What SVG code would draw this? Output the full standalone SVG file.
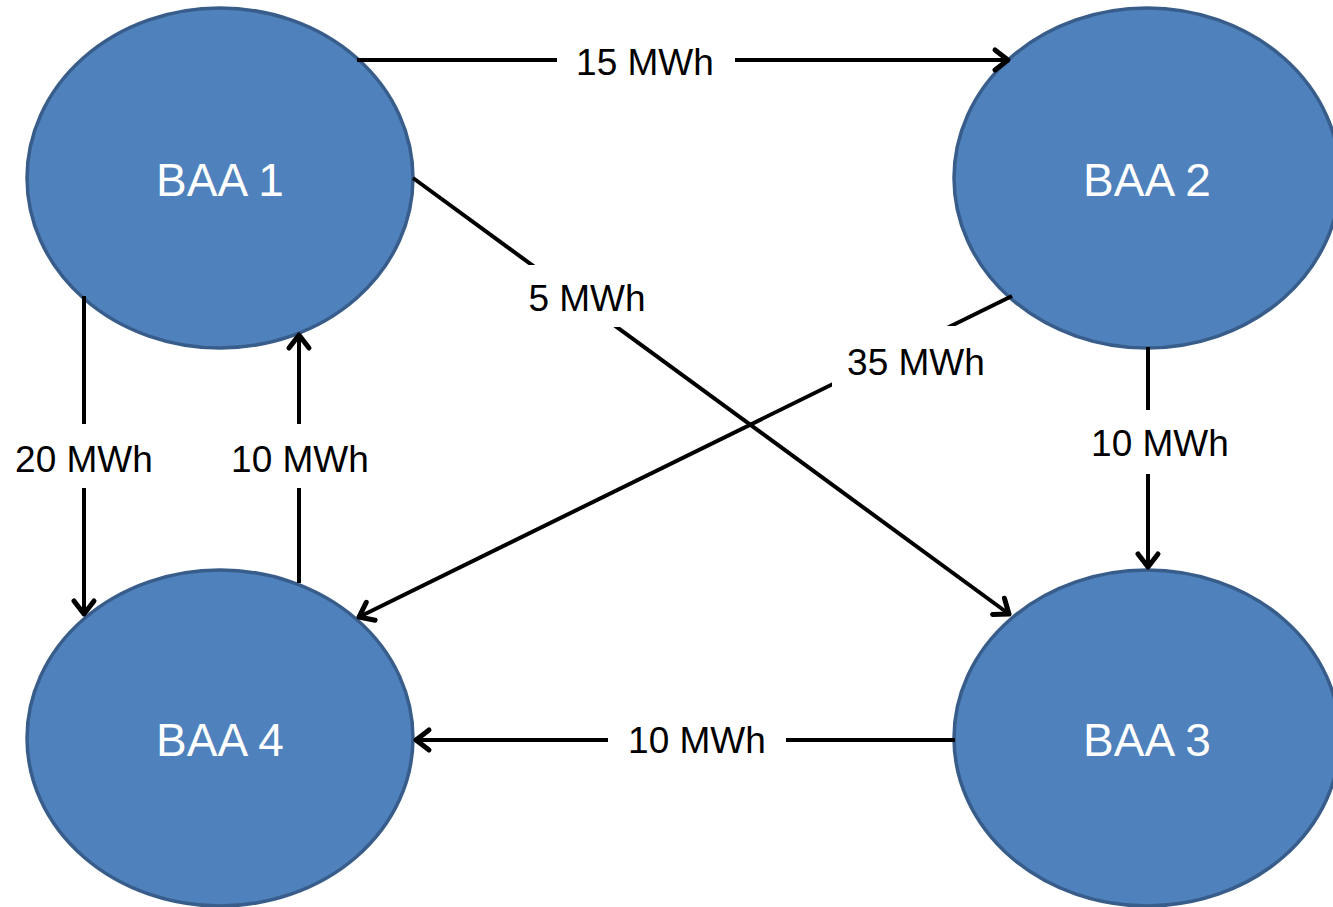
<svg xmlns="http://www.w3.org/2000/svg" width="1333" height="907" viewBox="0 0 1333 907">
<style>
.node{fill:#4F81BD;stroke:#385D8A;stroke-width:3.5}
.nt{font-family:"Liberation Sans",Arial,sans-serif;font-size:46px;fill:#fff;text-anchor:middle}
.ln{stroke:#000;stroke-width:4;fill:none}
.lb{font-family:"Liberation Sans",Arial,sans-serif;font-size:37px;fill:#000;text-anchor:middle}
.bg{fill:#fff}
</style>
<defs>
<marker id="arr" markerUnits="userSpaceOnUse" markerWidth="40" markerHeight="40" viewBox="-20 -20 40 40" refX="0" refY="0" orient="auto">
<path d="M-13,-10 L0,0 L-13,10" fill="none" stroke="#000" stroke-width="5" stroke-linecap="round" stroke-linejoin="round"/>
</marker>
</defs>
<rect width="1333" height="907" fill="#fff"/>
<g id="nodes">
<g id="baa1"><ellipse class="node" cx="220" cy="178" rx="193" ry="170"/><text class="nt" x="220" y="196">BAA 1</text></g>
<g id="baa2"><ellipse class="node" cx="1147" cy="178" rx="193" ry="170"/><text class="nt" x="1147" y="196">BAA 2</text></g>
<g id="baa4"><ellipse class="node" cx="220" cy="738" rx="193" ry="168"/><text class="nt" x="220" y="756">BAA 4</text></g>
<g id="baa3"><ellipse class="node" cx="1147" cy="738" rx="193" ry="168"/><text class="nt" x="1147" y="756">BAA 3</text></g>
</g>
<g id="connectors">
<line class="ln" x1="357" y1="60" x2="1008" y2="60" marker-end="url(#arr)"/>
<line class="ln" x1="413" y1="178" x2="1009" y2="614" marker-end="url(#arr)"/>
<line class="ln" x1="1012" y1="296" x2="359" y2="617" marker-end="url(#arr)"/>
<line class="ln" x1="84" y1="296" x2="84" y2="614" marker-end="url(#arr)"/>
<line class="ln" x1="299" y1="583" x2="299" y2="335" marker-end="url(#arr)"/>
<line class="ln" x1="1148" y1="347" x2="1148" y2="567" marker-end="url(#arr)"/>
<line class="ln" x1="955" y1="740" x2="416" y2="740" marker-end="url(#arr)"/>
</g>
<g id="labels">
<rect class="bg" x="557" y="40" width="178" height="44"/><text class="lb" x="645" y="75">15 MWh</text>
<rect class="bg" x="518" y="265" width="140" height="62"/><text class="lb" x="587" y="311">5 MWh</text>
<rect class="bg" x="832" y="326" width="168" height="62"/><text class="lb" x="916" y="375">35 MWh</text>
<rect class="bg" x="10" y="424" width="150" height="64"/><text class="lb" x="84" y="472">20 MWh</text>
<rect class="bg" x="226" y="424" width="150" height="64"/><text class="lb" x="300" y="472">10 MWh</text>
<rect class="bg" x="1086" y="410" width="150" height="64"/><text class="lb" x="1160" y="456">10 MWh</text>
<rect class="bg" x="608" y="718" width="178" height="44"/><text class="lb" x="697" y="753">10 MWh</text>
</g>
</svg>
